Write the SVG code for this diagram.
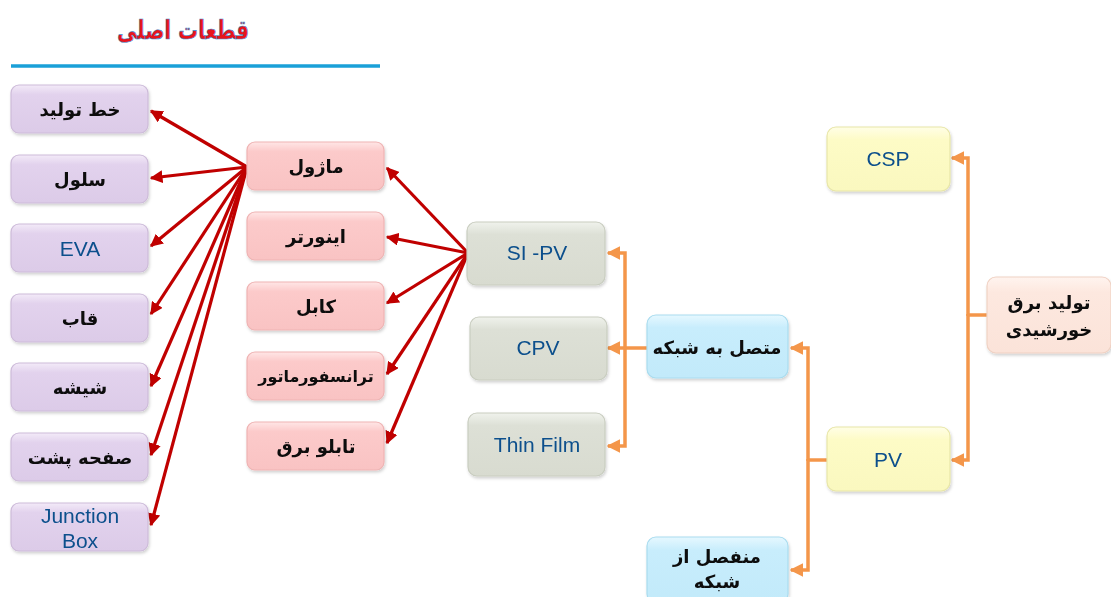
<svg xmlns="http://www.w3.org/2000/svg" width="1111" height="597" viewBox="0 0 1111 597">
<style>
.fa{font-family:"DejaVu Sans","Noto Sans",sans-serif;font-weight:bold;font-size:18px;fill:#0a0a0a;text-anchor:middle;direction:rtl}
.en{font-family:"Liberation Sans",Arial,sans-serif;font-size:21px;fill:#0b4f8c;text-anchor:middle}
.box{stroke-width:1.2}
.purple{fill:url(#gPurple);stroke:#cdbbd9}
.pink{fill:url(#gPink);stroke:#efb3b3}
.grey{fill:url(#gGrey);stroke:#c9cdc0}
.blue{fill:url(#gBlue);stroke:#a9dcef}
.yellow{fill:url(#gYellow);stroke:#e8e6a8}
.peach{fill:url(#gPeach);stroke:#f0d2c4}
.red{stroke:#c00000;stroke-width:3.2;fill:none;marker-end:url(#aRed)}
.org{stroke:#f4964a;stroke-width:3.5;fill:none}
.orgA{stroke:#f4964a;stroke-width:3.5;fill:none;marker-end:url(#aOrg)}
</style>
<defs>
<linearGradient id="gPurple" x1="0" y1="0" x2="0" y2="1"><stop offset="0" stop-color="#f3eaf8"/><stop offset="0.2" stop-color="#e2d2ed"/><stop offset="1" stop-color="#dccbe8"/></linearGradient>
<linearGradient id="gPink" x1="0" y1="0" x2="0" y2="1"><stop offset="0" stop-color="#ffe6e6"/><stop offset="0.2" stop-color="#fccaca"/><stop offset="1" stop-color="#f9c3c3"/></linearGradient>
<linearGradient id="gGrey" x1="0" y1="0" x2="0" y2="1"><stop offset="0" stop-color="#f0f2ec"/><stop offset="0.2" stop-color="#dde0d6"/><stop offset="1" stop-color="#d8dbd0"/></linearGradient>
<linearGradient id="gBlue" x1="0" y1="0" x2="0" y2="1"><stop offset="0" stop-color="#e6f8ff"/><stop offset="0.2" stop-color="#c8edfc"/><stop offset="1" stop-color="#c2eafa"/></linearGradient>
<linearGradient id="gYellow" x1="0" y1="0" x2="0" y2="1"><stop offset="0" stop-color="#fffee6"/><stop offset="0.2" stop-color="#fdfbc6"/><stop offset="1" stop-color="#faf8bf"/></linearGradient>
<linearGradient id="gPeach" x1="0" y1="0" x2="0" y2="1"><stop offset="0" stop-color="#fff4ef"/><stop offset="0.2" stop-color="#fde8df"/><stop offset="1" stop-color="#fbe3d9"/></linearGradient>
<filter id="sh" x="-10%" y="-10%" width="125%" height="135%"><feDropShadow dx="1" dy="2" stdDeviation="1.5" flood-color="#000" flood-opacity="0.18"/></filter>
<marker id="aRed" viewBox="0 0 10 10" refX="9" refY="5" markerWidth="4" markerHeight="4" orient="auto-start-reverse" markerUnits="strokeWidth"><path d="M0,0 L10,5 L0,10 z" fill="#c00000"/></marker>
<marker id="aOrg" viewBox="0 0 10 10" refX="9" refY="5" markerWidth="3.8" markerHeight="3.8" orient="auto" markerUnits="strokeWidth"><path d="M0,0 L10,5 L0,10 z" fill="#f4964a"/></marker>
</defs>
<rect width="1111" height="597" fill="#ffffff"/>

<g id="title">
<text x="183" y="39" textLength="132" lengthAdjust="spacingAndGlyphs" style="font-family:'DejaVu Sans',sans-serif;font-weight:bold;font-size:26px;fill:#e8141c;stroke:#3a8fd0;stroke-width:0.6;text-anchor:middle;direction:rtl">قطعات اصلی</text>
<line x1="11" y1="66" x2="380" y2="66" stroke="#1aa0d8" stroke-width="3.5"/>
</g>

<g id="connectors">
<line class="red" x1="247" y1="167" x2="151" y2="111"/>
<line class="red" x1="247" y1="167" x2="151" y2="178"/>
<line class="red" x1="247" y1="167" x2="151" y2="246"/>
<line class="red" x1="247" y1="167" x2="151" y2="314"/>
<line class="red" x1="247" y1="167" x2="151" y2="386"/>
<line class="red" x1="247" y1="167" x2="151" y2="455"/>
<line class="red" x1="247" y1="167" x2="151" y2="525"/>
<line class="red" x1="468" y1="253" x2="387" y2="168"/>
<line class="red" x1="468" y1="253" x2="387" y2="237"/>
<line class="red" x1="468" y1="253" x2="387" y2="303"/>
<line class="red" x1="468" y1="253" x2="387" y2="374"/>
<line class="red" x1="468" y1="253" x2="387" y2="443"/>
<line class="org" x1="987" y1="315" x2="968" y2="315"/>
<polyline class="orgA" points="968,316 968,158 952,158"/>
<polyline class="orgA" points="968,314 968,460 952,460"/>
<line class="org" x1="827" y1="460" x2="808" y2="460"/>
<polyline class="orgA" points="808,461 808,348 791,348"/>
<polyline class="orgA" points="808,459 808,570 791,570"/>
<line class="org" x1="647" y1="348" x2="625" y2="348"/>
<polyline class="orgA" points="625,349 625,253 608,253"/>
<line class="orgA" x1="626" y1="348" x2="608" y2="348"/>
<polyline class="orgA" points="625,347 625,446 608,446"/>
</g>

<g id="n-khat" filter="url(#sh)"><rect class="box purple" x="11" y="85" width="137" height="48" rx="8"/><text class="fa" x="80" y="116">خط تولید</text></g>
<g id="n-selol" filter="url(#sh)"><rect class="box purple" x="11" y="155" width="137" height="48" rx="8"/><text class="fa" x="80" y="186">سلول</text></g>
<g id="n-eva" filter="url(#sh)"><rect class="box purple" x="11" y="224" width="137" height="48" rx="8"/><text class="en" x="80" y="256">EVA</text></g>
<g id="n-ghab" filter="url(#sh)"><rect class="box purple" x="11" y="294" width="137" height="48" rx="8"/><text class="fa" x="80" y="325">قاب</text></g>
<g id="n-shishe" filter="url(#sh)"><rect class="box purple" x="11" y="363" width="137" height="48" rx="8"/><text class="fa" x="80" y="394">شیشه</text></g>
<g id="n-safhe" filter="url(#sh)"><rect class="box purple" x="11" y="433" width="137" height="48" rx="8"/><text class="fa" x="80" y="464">صفحه پشت</text></g>
<g id="n-junction" filter="url(#sh)"><rect class="box purple" x="11" y="503" width="137" height="48" rx="8"/><text class="en" x="80" y="523">Junction</text><text class="en" x="80" y="548">Box</text></g>

<g id="n-modul" filter="url(#sh)"><rect class="box pink" x="247" y="142" width="137" height="48" rx="8"/><text class="fa" x="316" y="173">ماژول</text></g>
<g id="n-inverter" filter="url(#sh)"><rect class="box pink" x="247" y="212" width="137" height="48" rx="8"/><text class="fa" x="316" y="243">اینورتر</text></g>
<g id="n-kabl" filter="url(#sh)"><rect class="box pink" x="247" y="282" width="137" height="48" rx="8"/><text class="fa" x="316" y="313">کابل</text></g>
<g id="n-trans" filter="url(#sh)"><rect class="box pink" x="247" y="352" width="137" height="48" rx="8"/><text class="fa" x="316" y="382" style="font-size:16px">ترانسفورماتور</text></g>
<g id="n-tablo" filter="url(#sh)"><rect class="box pink" x="247" y="422" width="137" height="48" rx="8"/><text class="fa" x="316" y="453">تابلو برق</text></g>

<g id="n-sipv" filter="url(#sh)"><rect class="box grey" x="467" y="222" width="138" height="63" rx="9"/><text class="en" x="537" y="260">SI -PV</text></g>
<g id="n-cpv" filter="url(#sh)"><rect class="box grey" x="470" y="317" width="137" height="63" rx="9"/><text class="en" x="538" y="355">CPV</text></g>
<g id="n-thin" filter="url(#sh)"><rect class="box grey" x="468" y="413" width="137" height="63" rx="9"/><text class="en" x="537" y="452">Thin Film</text></g>

<g id="n-motasel" filter="url(#sh)"><rect class="box blue" x="647" y="315" width="141" height="63" rx="9"/><text class="fa" x="717" y="354">متصل به شبکه</text></g>
<g id="n-monfasel" filter="url(#sh)"><rect class="box blue" x="647" y="537" width="141" height="66" rx="9"/><text class="fa" x="717" y="563">منفصل از</text><text class="fa" x="717" y="588">شبکه</text></g>

<g id="n-csp" filter="url(#sh)"><rect class="box yellow" x="827" y="127" width="123" height="64" rx="9"/><text class="en" x="888" y="166">CSP</text></g>
<g id="n-pv" filter="url(#sh)"><rect class="box yellow" x="827" y="427" width="123" height="64" rx="9"/><text class="en" x="888" y="467">PV</text></g>

<g id="n-tolid" filter="url(#sh)"><rect class="box peach" x="987" y="277" width="124" height="76" rx="9"/><text class="fa" x="1049" y="309">تولید برق</text><text class="fa" x="1049" y="336">خورشیدی</text></g>
</svg>
